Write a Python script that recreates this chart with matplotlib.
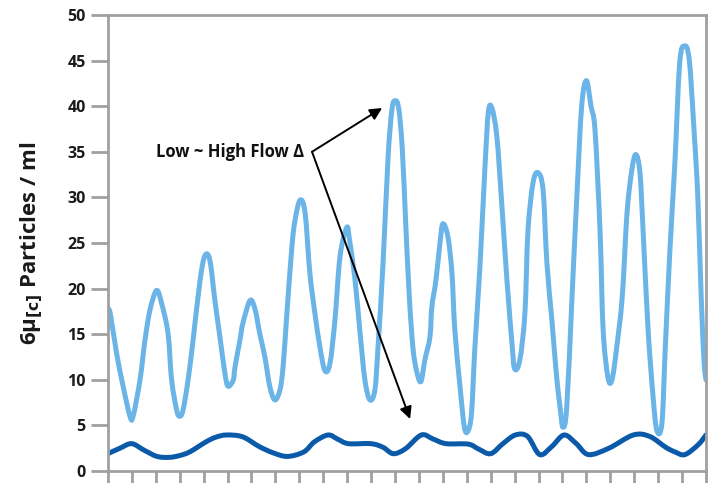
import numpy as np
import matplotlib
matplotlib.use('agg')
import matplotlib.pyplot as plt
from matplotlib.path import Path
from matplotlib.patches import PathPatch

# High flow series (light blue), x in tick units
high_x = [0.0, 0.1, 0.36, 0.64, 0.92, 1.05, 1.34, 1.55, 1.76, 2.03, 2.24, 2.51, 2.66, 2.87,
          3.0, 3.14, 3.35, 3.56, 3.85, 4.05, 4.26, 4.47, 4.68, 4.89, 5.02, 5.24, 5.31, 5.52,
          5.64, 5.94, 6.15, 6.35, 6.56, 6.77, 6.98, 7.19, 7.32, 7.48, 7.69, 7.82, 8.03, 8.24,
          8.44, 8.65, 8.86, 9.07, 9.28, 9.49, 9.70, 9.98, 10.1, 10.33, 10.54, 10.74, 10.95,
          11.16, 11.29, 11.5, 11.71, 11.87, 12.0, 12.15, 12.3, 12.45, 12.6, 12.75, 12.9,
          13.08, 13.25, 13.46, 13.54, 13.71, 13.88, 14.0, 14.21, 14.38, 14.5, 14.72, 14.9,
          15.05, 15.2, 15.34, 15.55, 15.76, 15.9, 16.05, 16.26, 16.47, 16.68, 16.89, 17.0,
          17.22, 17.43, 17.56, 17.77, 17.98, 18.19, 18.35, 18.56, 18.75, 18.9, 19.02, 19.18,
          19.4, 19.6, 19.8, 20.0, 20.2, 20.36, 20.57, 20.7, 20.9, 21.07, 21.27, 21.5, 21.7,
          21.9, 22.07, 22.24, 22.37, 22.58, 22.79, 22.95, 23.16, 23.3, 23.5, 23.7, 23.9,
          24.1, 24.3, 24.5, 24.66, 24.8, 24.92, 25.0]
high_y = [17.8, 17.2, 12.9, 9.2, 6.0, 6.0, 10.0, 14.4, 17.7, 19.8, 18.4, 15.1, 10.0, 6.7,
          6.0, 6.7, 10.0, 14.4, 20.9, 23.6, 23.1, 18.7, 14.7, 10.7, 9.3, 10.0, 11.4, 14.4,
          16.2, 18.7, 17.7, 15.0, 12.5, 9.2, 7.8, 8.9, 11.4, 17.3, 24.6, 27.5, 29.7, 28.3,
          21.7, 17.3, 13.6, 11.0, 11.8, 16.6, 23.5, 26.7, 25.3, 20.9, 15.1, 10.0, 7.8,
          8.9, 13.6, 22.8, 34.4, 39.6, 40.6, 39.8, 35.5, 27.0, 19.0, 13.5, 11.0,
          9.8, 12.2, 14.7, 18.0, 20.9, 25.0, 27.1, 25.7, 21.7, 15.5, 9.2, 4.8,
          4.4, 6.4, 13.6, 22.4, 33.3, 39.3, 39.8, 36.6, 29.0, 20.9, 14.0, 11.2,
          12.2, 17.3, 26.4, 31.6, 32.7, 30.8, 22.8, 16.5, 10.5, 7.0, 4.8, 7.0,
          19.1, 30.0, 39.9, 42.8, 39.9, 37.4, 26.4, 15.5, 10.3, 10.0, 13.6, 19.1, 28.3,
          33.0, 34.7, 32.7, 26.4, 15.5, 8.1, 4.4, 5.3, 13.6, 24.6, 33.8, 44.7,
          46.6, 45.1, 37.4, 30.0, 19.1, 12.0, 10.0]

# Low flow series (dark blue)
low_x = [0.0, 0.5, 0.99, 1.5, 2.05, 2.57, 3.0, 3.42, 4.1, 4.5, 4.95, 5.63, 6.31, 6.9, 7.5,
         8.19, 8.63, 9.2, 9.6, 10.05, 10.99, 11.5, 11.93, 12.44, 13.1, 13.6, 14.13, 15.06,
         15.5, 16.0, 16.51, 17.03, 17.54, 18.05, 18.56, 19.07, 19.58, 20.09, 20.94, 21.96,
         22.64, 23.32, 23.7, 24.12, 24.68, 25.0]
low_y = [1.9, 2.5, 3.0, 2.3, 1.6, 1.5, 1.7, 2.1, 3.2, 3.7, 3.95, 3.75, 2.7, 2.0, 1.6,
         2.1, 3.2, 3.95, 3.5, 3.0, 3.0, 2.6, 1.9, 2.45, 3.95, 3.5, 3.0, 2.95,
         2.4, 1.9, 3.0, 3.95, 3.8, 1.8, 2.7, 3.95, 3.0, 1.8, 2.5, 3.95,
         3.8, 2.6, 2.1, 1.8, 2.9, 3.95]

y_ticks = list(range(0, 55, 5))
x_ticks = list(range(0, 26))

GREY = '#a0a0a0'


def smooth_path(xs, ys):
    # cubic bezier through the points (like a spreadsheet "smoothed line")
    p = np.column_stack([xs, ys]).astype(float)
    ext = np.vstack([p[0], p, p[-1]])
    verts = [p[0]]
    codes = [Path.MOVETO]
    for i in range(len(p) - 1):
        p0, p1, p2, p3 = ext[i], ext[i + 1], ext[i + 2], ext[i + 3]
        verts += [p1 + (p2 - p0) / 6, p2 - (p3 - p1) / 6, p2]
        codes += [Path.CURVE4] * 3
    return Path(verts, codes)


plt.rcParams['font.family'] = ['Open Sans', 'DejaVu Sans']

fig = plt.figure(figsize=(7.16, 4.83), dpi=100)
ax = fig.add_axes([0.1508, 0.0248, 0.8352, 0.9442])

for xs, ys, col in [(high_x, high_y, '#6ab4e8'), (low_x, low_y, '#0b5aaa')]:
    ax.add_patch(PathPatch(smooth_path(xs, ys), facecolor='none', edgecolor=col, lw=3.6,
                           joinstyle='round', capstyle='round'))

ax.set_xlim(0, 25)
ax.set_ylim(0, 50)
ax.set_xticks(x_ticks)
ax.set_xticklabels([])
ax.set_yticks(y_ticks)
ax.set_yticklabels([str(v) for v in y_ticks], fontsize=11.5, fontweight='bold')

for s in ax.spines.values():
    s.set_color(GREY)
    s.set_linewidth(2)
ax.tick_params(axis='both', colors=GREY, width=2, labelcolor='#1a1a1a')
ax.tick_params(axis='y', length=12, pad=4)
ax.tick_params(axis='x', length=12)

ax.set_ylabel(r'6μ$_{\mathbf{[c]}}$ Particles / ml', fontsize=16, fontweight='bold',
              labelpad=16, color='#1a1a1a')

# annotation with two arrows
ax.text(5.1, 35.0, 'Low ~ High Flow Δ', fontsize=12, fontweight='bold',
        ha='center', va='center', color='#111111')
arr = dict(arrowstyle='-|>', color='black', lw=1.4, mutation_scale=18, shrinkA=0, shrinkB=0)
ax.annotate('', xy=(11.46, 39.8), xytext=(8.53, 35.0), arrowprops=arr)
ax.annotate('', xy=(12.63, 5.7), xytext=(8.53, 35.0), arrowprops=arr)

fig.savefig('out.png', dpi=100, facecolor='white')
